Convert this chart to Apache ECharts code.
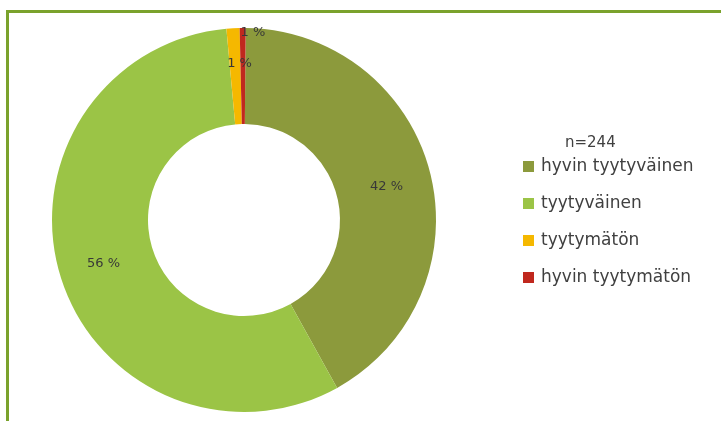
<!DOCTYPE html>
<html>
<head>
<meta charset="utf-8">
<script src="https://cdn.jsdelivr.net/npm/echarts@6/dist/echarts.min.js"></script>
<style>
html,body{margin:0;padding:0;background:#fff;}
#chart{width:721px;height:421px;}
</style>
</head>
<body>
<div id="chart"></div>
<script>
var categories = ['hyvin tyytyväinen', 'tyytyväinen', 'tyytymätön', 'hyvin tyytymätön'];
var shares = [41.8, 56.6, 1.1, 0.5];
var labelTexts = ['42 %', '56 %', '1 %', '1 %'];
var colors = ['#8c9a3c', '#9bc446', '#f5b800', '#c0281e'];
var sampleText = 'n=244';

var chart = echarts.init(document.getElementById('chart'), null, {renderer: 'canvas'});
var labelShift = [[0, 3], [0, 0], [4, -10], [10, -40]];
var option = {
  animation: false,
  backgroundColor: '#ffffff',
  graphic: [
    {type: 'rect', shape: {x: 6, y: 10, width: 715, height: 3}, style: {fill: '#7aa22c'}},
    {type: 'rect', shape: {x: 6, y: 10, width: 3, height: 411}, style: {fill: '#7aa22c'}},
    {type: 'text', left: 565, top: 136, style: {text: sampleText, font: '15px "DejaVu Sans"', fill: '#404040'}}
  ],
  legend: {
    orient: 'vertical',
    left: 523,
    top: 158,
    padding: 0,
    itemWidth: 11,
    itemHeight: 11,
    itemGap: 20,
    icon: 'rect',
    textStyle: {fontFamily: 'DejaVu Sans', fontSize: 17, lineHeight: 17, color: '#404040', padding: [0, 0, 0, 2]},
    data: categories
  },
  series: [{
    type: 'pie',
    center: [244, 220],
    radius: [96, 192],
    startAngle: 89.5,
    clockwise: true,
    avoidLabelOverlap: false,
    itemStyle: {borderWidth: 0},
    label: {
      show: true,
      position: 'inside',
      fontFamily: 'DejaVu Sans',
      fontSize: 13,
      color: '#383838',
      formatter: function (p) { return labelTexts[p.dataIndex]; }
    },
    labelLayout: function (p) {
      var s = labelShift[p.dataIndex];
      return {dx: s[0], dy: s[1]};
    },
    emphasis: {disabled: true},
    data: categories.map(function (c, i) {
      return {name: c, value: shares[i], itemStyle: {color: colors[i]}};
    })
  }]
};
chart.setOption(option);
</script>
</body>
</html>
